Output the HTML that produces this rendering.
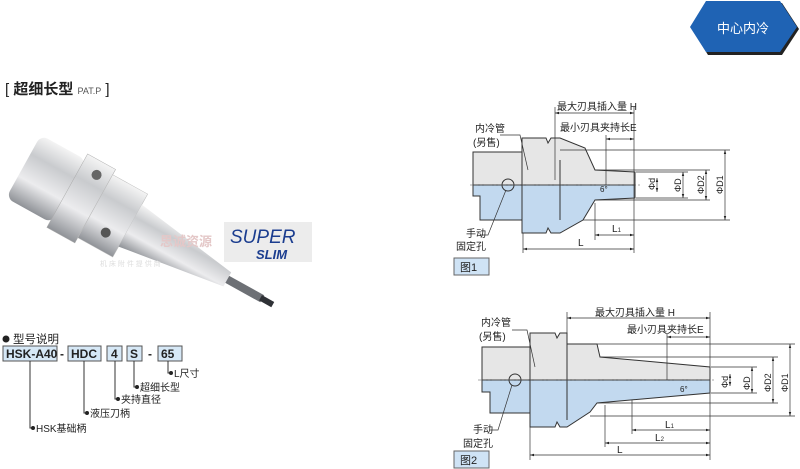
<!DOCTYPE html>
<html><head><meta charset="utf-8"><style>
body{margin:0;width:800px;height:469px;background:#fff;overflow:hidden;font-family:"Liberation Sans","Noto Sans CJK SC",sans-serif}
svg{position:absolute;left:0;top:0}
text{font-family:"Liberation Sans","Noto Sans CJK SC",sans-serif}
</style></head><body>
<svg width="800" height="469" viewBox="0 0 800 469">
<defs>
<linearGradient id="met" x1="0" y1="0" x2="0" y2="1">
<stop offset="0" stop-color="#f4f4f4"/><stop offset="0.3" stop-color="#c9cbce"/><stop offset="0.65" stop-color="#ececee"/><stop offset="1" stop-color="#8f9297"/></linearGradient>
<marker id="a" viewBox="0 0 10 10" refX="10" refY="5" markerWidth="6" markerHeight="6" orient="auto-start-reverse"><path d="M0,2 L10,5 L0,8z" fill="#222"/></marker>
</defs>
<!-- badge -->
<polygon points="692,29 708,3 782,3 799,29 782,55 708,55" fill="#222"/>
<polygon points="690,27 706,1 780,1 797,27 780,52 706,52" fill="#1f63b4"/>
<text x="743" y="33" font-size="13" fill="#fff" text-anchor="middle">中心内冷</text>
<!-- title -->
<text x="5" y="94" font-size="15" fill="#222">[ <tspan font-weight="bold">超细长型</tspan> <tspan font-size="9" fill="#555">PAT.P</tspan> ]</text>
<!-- product -->
<g transform="translate(48,180) rotate(29)">
<rect x="-28" y="-36" width="52" height="72" rx="8" fill="url(#met)"/>
<rect x="22" y="-42" width="32" height="84" fill="url(#met)" stroke="#aaa" stroke-width="0.5"/>
<rect x="54" y="-36" width="40" height="72" fill="url(#met)" stroke="#bbb" stroke-width="0.5"/>
<circle cx="40" cy="-28" r="5" fill="#666"/>
<circle cx="76" cy="18" r="5" fill="#555"/>
<polygon points="94,-24 205,-8 205,8 94,24" fill="url(#met)"/>
<rect x="205" y="-4" width="40" height="8" fill="#6d7075"/>
<rect x="243" y="-3" width="14" height="6" fill="#2f3136"/>
</g>
<rect x="224" y="222" width="88" height="40" fill="#ececec"/>
<text x="230" y="243" font-size="19" fill="#1b3d8f" font-style="italic">SUPER</text>
<text x="256" y="259" font-size="13" fill="#1b3d8f" font-weight="bold" font-style="italic">SLIM</text>
<text x="160" y="246" font-size="13" fill="#e4c8c8" font-weight="bold">思诚资源</text>
<text x="100" y="266" font-size="7" fill="#ddd">机 床 附 件 提 供 商</text>
<!-- model -->
<circle cx="6" cy="339" r="3.5" fill="#222"/>
<text x="13" y="343" font-size="11.5" fill="#222">型号说明</text>
<g font-size="12" font-weight="bold" fill="#222" stroke="none">
<rect x="3" y="346" width="54" height="15" fill="#d6e8f6" stroke="#555"/><text x="6" y="358">HSK-A40</text>
<text x="60" y="358">-</text>
<rect x="68" y="346" width="33" height="15" fill="#d6e8f6" stroke="#555"/><text x="71" y="358">HDC</text>
<rect x="107" y="346" width="15" height="15" fill="#d6e8f6" stroke="#555"/><text x="111" y="358">4</text>
<rect x="127" y="346" width="15" height="15" fill="#d6e8f6" stroke="#555"/><text x="130" y="358">S</text>
<text x="148" y="358">-</text>
<rect x="158" y="346" width="24" height="15" fill="#d6e8f6" stroke="#555"/><text x="161" y="358">65</text>
</g>
<g stroke="#333" stroke-width="1" fill="none">
<path d="M30,361V428H33"/><path d="M84,361V413H87"/><path d="M115,361V399H118"/><path d="M134,361V387H137"/><path d="M168,361V373H171"/>
</g>
<g fill="#222"><circle cx="33" cy="428" r="2"/><circle cx="87" cy="413" r="2"/><circle cx="118" cy="399" r="2"/><circle cx="137" cy="387" r="2"/><circle cx="171" cy="373" r="2"/></g>
<g font-size="10" fill="#222">
<text x="36" y="432">HSK基础柄</text><text x="90" y="417">液压刀柄</text><text x="121" y="403">夹持直径</text><text x="140" y="391">超细长型</text><text x="174" y="377">L尺寸</text>
</g>

<!-- FIG 1 -->
<g stroke="#333" stroke-width="1">
<polygon points="473,185 473,152 522,152 522,138 546,138 548,143 551,138 560,138 585,148 595,170 635,172 635,185" fill="#e6e6e6"/>
<polygon points="473,185 473,196 480,196 480,220 522,220 522,233 546,233 548,228 551,233 560,233 583,220 595,200 635,198 635,185" fill="#c2d9ef"/>
<line x1="522" y1="152" x2="522" y2="220"/><line x1="560" y1="160" x2="560" y2="220"/>
<circle cx="508" cy="185" r="6" fill="none"/>
</g>
<line x1="470" y1="185" x2="640" y2="185" stroke="#555" stroke-width="0.6" stroke-dasharray="8,2,2,2"/>
<g stroke="#333" stroke-width="0.7" fill="none">
<line x1="555" y1="113" x2="634" y2="113" marker-start="url(#a)" marker-end="url(#a)"/>
<line x1="606" y1="139" x2="634" y2="139" marker-start="url(#a)" marker-end="url(#a)"/>
<line x1="523" y1="249" x2="634" y2="249" marker-start="url(#a)" marker-end="url(#a)"/>
<line x1="595" y1="235" x2="634" y2="235" marker-start="url(#a)" marker-end="url(#a)"/>
<line x1="634" y1="107" x2="634" y2="253"/><line x1="555" y1="107" x2="555" y2="180"/><line x1="606" y1="135" x2="606" y2="185"/><line x1="523" y1="233" x2="523" y2="253"/><line x1="595" y1="203" x2="595" y2="240"/>
<line x1="657" y1="178" x2="657" y2="192" marker-start="url(#a)" marker-end="url(#a)"/>
<line x1="683" y1="172" x2="683" y2="198" marker-start="url(#a)" marker-end="url(#a)"/>
<line x1="706" y1="170" x2="706" y2="200" marker-start="url(#a)" marker-end="url(#a)"/>
<line x1="725" y1="150" x2="725" y2="220" marker-start="url(#a)" marker-end="url(#a)"/>
<line x1="560" y1="150" x2="730" y2="150"/><line x1="583" y1="220" x2="730" y2="220"/>
<line x1="595" y1="170" x2="710" y2="170"/><line x1="595" y1="200" x2="710" y2="200"/>
<line x1="636" y1="172" x2="688" y2="172"/><line x1="636" y1="198" x2="688" y2="198"/>
<path d="M500,135 L520,135 L528,170"/><path d="M506,190 L488,235 L480,235"/>
</g>
<g font-size="10" fill="#222">
<text x="557" y="110">最大刃具插入量 H</text><text x="560" y="131">最小刃具夹持长E</text>
<text x="475" y="132">内冷管</text><text x="473" y="146">(另售)</text>
<text x="466" y="237">手动</text><text x="456" y="250">固定孔</text>
<text x="578" y="246">L</text><text x="612" y="232">L<tspan font-size="6">1</tspan></text>
<text x="600" y="192" font-size="8">6°</text>
</g>
<g font-size="9" fill="#222">
<text transform="translate(655,190) rotate(-90)">Φd</text><text transform="translate(681,192) rotate(-90)">ΦD</text>
<text transform="translate(704,194) rotate(-90)">ΦD2</text><text transform="translate(723,194) rotate(-90)">ΦD1</text>
</g>
<rect x="454" y="258" width="35" height="17" fill="#cfe3f5" stroke="#666"/><text x="460" y="271" font-size="11" fill="#222">图1</text>

<!-- FIG 2 -->
<g stroke="#333" stroke-width="1">
<polygon points="482,380 482,347 530,347 530,333 555,333 557,338 560,333 567,333 567,344 597,344 600,357 710,367 710,380" fill="#e6e6e6"/>
<polygon points="482,380 482,392 490,392 490,413 530,413 530,427 555,427 557,422 560,427 567,427 590,412 597,403 710,393 710,380" fill="#c2d9ef"/>
<line x1="530" y1="347" x2="530" y2="413"/><line x1="567" y1="344" x2="567" y2="420"/>
<circle cx="515" cy="380" r="6" fill="none"/>
</g>
<line x1="478" y1="380" x2="716" y2="380" stroke="#555" stroke-width="0.6" stroke-dasharray="8,2,2,2"/>
<g stroke="#333" stroke-width="0.7" fill="none">
<line x1="567" y1="318" x2="710" y2="318" marker-start="url(#a)" marker-end="url(#a)"/>
<line x1="667" y1="337" x2="710" y2="337" marker-start="url(#a)" marker-end="url(#a)"/>
<line x1="632" y1="430" x2="710" y2="430" marker-start="url(#a)" marker-end="url(#a)"/>
<line x1="605" y1="443" x2="710" y2="443" marker-start="url(#a)" marker-end="url(#a)"/>
<line x1="530" y1="455" x2="710" y2="455" marker-start="url(#a)" marker-end="url(#a)"/>
<line x1="710" y1="312" x2="710" y2="460"/><line x1="567" y1="312" x2="567" y2="344"/><line x1="667" y1="333" x2="667" y2="380"/>
<line x1="530" y1="427" x2="530" y2="460"/><line x1="605" y1="405" x2="605" y2="447"/><line x1="632" y1="400" x2="632" y2="434"/>
<line x1="730" y1="374" x2="730" y2="386" marker-start="url(#a)" marker-end="url(#a)"/>
<line x1="752" y1="367" x2="752" y2="393" marker-start="url(#a)" marker-end="url(#a)"/>
<line x1="773" y1="357" x2="773" y2="403" marker-start="url(#a)" marker-end="url(#a)"/>
<line x1="790" y1="344" x2="790" y2="416" marker-start="url(#a)" marker-end="url(#a)"/>
<line x1="567" y1="344" x2="795" y2="344"/><line x1="590" y1="416" x2="795" y2="416"/>
<line x1="600" y1="357" x2="778" y2="357"/><line x1="597" y1="403" x2="778" y2="403"/>
<line x1="711" y1="367" x2="757" y2="367"/><line x1="711" y1="393" x2="757" y2="393"/>
<path d="M512,330 L527,330 L535,367"/><path d="M512,385 L498,430 L490,430"/>
</g>
<g font-size="10" fill="#222">
<text x="595" y="316">最大刃具插入量 H</text><text x="627" y="333">最小刃具夹持长E</text>
<text x="481" y="326">内冷管</text><text x="479" y="340">(另售)</text>
<text x="473" y="433">手动</text><text x="463" y="447">固定孔</text>
<text x="617" y="453">L</text><text x="655" y="441">L<tspan font-size="6">2</tspan></text><text x="665" y="428">L<tspan font-size="6">1</tspan></text>
<text x="680" y="392" font-size="8">6°</text>
</g>
<g font-size="9" fill="#222">
<text transform="translate(728,388) rotate(-90)">Φd</text><text transform="translate(750,390) rotate(-90)">ΦD</text>
<text transform="translate(771,392) rotate(-90)">ΦD2</text><text transform="translate(788,392) rotate(-90)">ΦD1</text>
</g>
<rect x="454" y="451" width="35" height="17" fill="#cfe3f5" stroke="#666"/><text x="460" y="464" font-size="11" fill="#222">图2</text>
</svg>
</body></html>
